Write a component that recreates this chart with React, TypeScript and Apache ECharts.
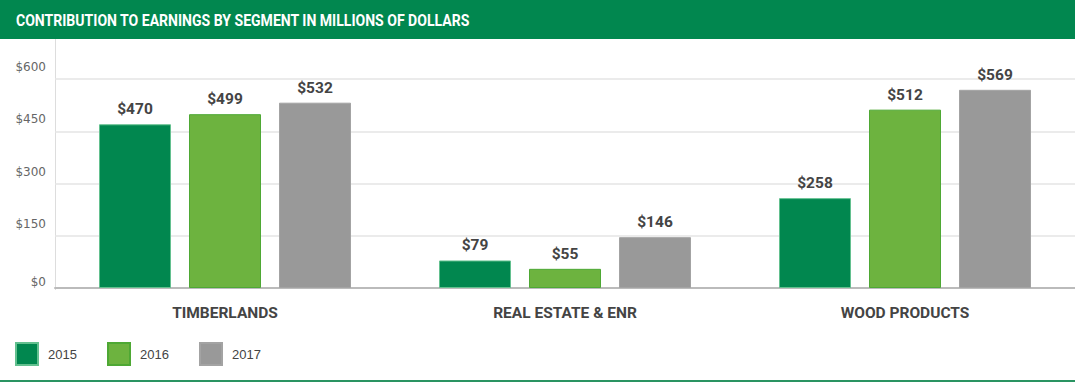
import React, { useEffect, useRef } from "react";
import * as echarts from "echarts";

const categories = ["TIMBERLANDS", "REAL ESTATE & ENR", "WOOD PRODUCTS"];
const years = ["2015", "2016", "2017"];
const values2015 = [470, 79, 258];
const values2016 = [499, 55, 512];
const values2017 = [532, 146, 569];
const yTicks = [0, 150, 300, 450, 600];
const titleText = "CONTRIBUTION TO EARNINGS BY SEGMENT IN MILLIONS OF DOLLARS";

const GREEN = "#01874F";
const LIGHT_GREEN = "#6DB33F";
const GRAY = "#999999";
const COND = "Roboto, 'Liberation Sans', sans-serif";
const BODY = "'Liberation Sans', Arial, sans-serif";

export default function App() {
  const ref = useRef<HTMLDivElement>(null);
  useEffect(() => {
    document.body.style.margin = "0";
    const chart = echarts.init(ref.current!, null, { renderer: "svg" });
    const colors = [GREEN, LIGHT_GREEN, GRAY];
    const borders = ["#63c08f", "#4ea834", "#a3a3a3"];
    const seriesData = [values2015, values2016, values2017];
    const legendX = [15, 107, 199];
    chart.setOption({
      animation: false,
      graphic: [
        { type: "rect", shape: { x: 0, y: 0, width: 1075, height: 39 }, style: { fill: GREEN } },
        {
          type: "text",
          x: 16,
          y: 21,
          scaleX: 0.827,
          style: {
            text: titleText,
            fill: "#ffffff",
            font: `bold 17px ${COND}`,
            verticalAlign: "middle",
          },
        },
        { type: "line", shape: { x1: 55.5, y1: 39, x2: 55.5, y2: 290 }, style: { stroke: "#dddddd", lineWidth: 1 } },
        { type: "rect", shape: { x: 0, y: 380, width: 1075, height: 2 }, style: { fill: "#2a9462" } },
      ],
      legend: years.map((y, i) => ({
        data: [y],
        left: legendX[i],
        top: 342,
        padding: 0,
        itemWidth: 22,
        itemHeight: 22,
        icon: "rect",
        textStyle: {
          color: "#444444",
          fontSize: 13,
          fontFamily: BODY,
          padding: [3, 0, 0, 5],
        },
        selectedMode: false,
      })),
      grid: { left: 55, right: 0, top: 79, bottom: 96, containLabel: false },
      xAxis: {
        type: "category",
        data: categories,
        axisTick: { show: false },
        axisLine: { lineStyle: { color: "#bbbbbb", width: 2 } },
        axisLabel: {
          margin: 17,
          color: "#444444",
          fontSize: 15.5,
          fontWeight: "bold",
          fontFamily: COND,
        },
      },
      yAxis: {
        type: "value",
        min: 0,
        max: 600,
        interval: 150,
        axisLine: { show: false },
        axisTick: { show: false },
        splitLine: { lineStyle: { color: "#e4e4e4", width: 1.5 } },
        axisLabel: {
          margin: 9,
          color: "#666666",
          fontSize: 12,
          fontFamily: "'DejaVu Sans', sans-serif",
          formatter: (v: number) => (v === yTicks[0] ? `{b|$${v}}` : `{a|$${v}}`),
          rich: {
            a: { padding: [0, 0, 24, 0], color: "#666666", fontSize: 12, fontFamily: "'DejaVu Sans', sans-serif" },
            b: { padding: [0, 0, 12, 0], color: "#666666", fontSize: 12, fontFamily: "'DejaVu Sans', sans-serif" },
          },
        },
      },
      series: years.map((y, i) => ({
        name: y,
        type: "bar",
        data: seriesData[i],
        barWidth: 72,
        barGap: "25%",
        itemStyle: { color: colors[i], borderColor: borders[i], borderWidth: 1 },
        label: {
          show: true,
          position: "top",
          distance: 7,
          formatter: (p: any) => `$${p.value}`,
          color: "#444444",
          fontSize: 15.5,
          fontWeight: "bold",
          fontFamily: COND,
        },
      })),
    });
    return () => chart.dispose();
  }, []);
  return <div ref={ref} style={{ position: "absolute", left: 0, top: 0, width: 1075, height: 384 }} />;
}
